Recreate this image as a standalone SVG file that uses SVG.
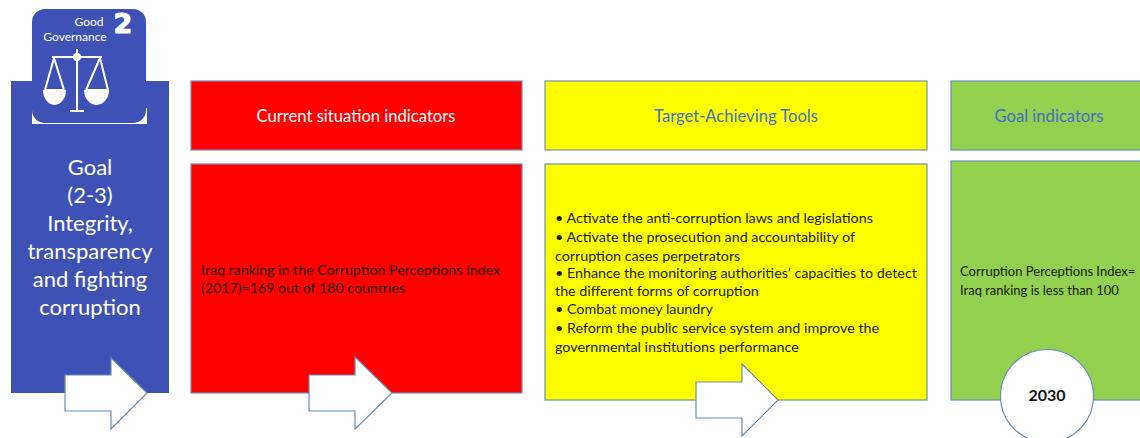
<svg xmlns="http://www.w3.org/2000/svg" width="1140" height="438" viewBox="0 0 1140 438">
<style>
text{font-family:Lato,"Liberation Sans",sans-serif}
.box{stroke:#6f8fb5;stroke-width:1.2}
.arrow{fill:#fff;stroke:#6b8cb0;stroke-width:1.2}
.head{font-size:16.6px;text-anchor:middle}
.body{font-size:14.2px;fill:#1a1a00}
.goal{font-size:22px;fill:#fff;text-anchor:middle}
.sym{fill:none;stroke:#fff;stroke-width:2}
</style>
<rect width="1140" height="438" fill="#fff"/>
<g id="goal">
<rect x="11" y="81" width="158" height="312" fill="#3f51b5"/>
<text class="goal"><tspan x="90" y="175">Goal</tspan><tspan x="90" y="203">(2-3)</tspan><tspan x="90" y="231">Integrity,</tspan><tspan x="90" y="259">transparency</tspan><tspan x="90" y="287">and fighting</tspan><tspan x="90" y="315">corruption</tspan></text>
</g>
<g id="icon">
<rect x="32" y="108" width="115" height="16" fill="#fff"/>
<rect x="32" y="9" width="114" height="114" rx="13" fill="#3f51b5"/>
<text x="89" y="26" font-size="12" fill="#fff" text-anchor="middle">Good</text>
<text x="75" y="41" font-size="12" fill="#fff" text-anchor="middle">Governance</text>
<text x="123" y="33" font-size="27" font-weight="700" fill="#fff" stroke="#fff" stroke-width="1" text-anchor="middle" style="font-family:'DejaVu Sans',sans-serif">2</text>
<path class="sym" d="M52 57H102M77 49V111M70 111H84M54 58L45 90M54 58L64 90M100 58L86 90M100 58L108 90M45 90H64M86 90H108"/>
<path d="M43 90H66A11.500 15 0 0 1 43 90ZM84 90H109A12.500 15 0 0 1 84 90Z" fill="#fff"/>
<circle cx="77" cy="57" r="4" fill="#fff"/>
</g>
<g id="current-head"><rect class="box" x="191" y="81" width="331" height="69" fill="#f00"/><text class="head" x="356" y="122" fill="#fff">Current situation indicators</text></g>
<g id="current-body"><rect class="box" x="191" y="164" width="331" height="229" fill="#f00"/><text class="body"><tspan x="201" y="275">Iraq ranking in the Corruption Perceptions Index</tspan><tspan x="201" y="293">(2017)=169 out of 180 countries</tspan></text></g>
<g id="tools-head"><rect class="box" x="545" y="81" width="382" height="69" fill="#ff0"/><text class="head" x="736" y="122" fill="#4472c4">Target-Achieving Tools</text></g>
<g id="tools-body"><rect class="box" x="545" y="164" width="382" height="236" fill="#ff0"/><text class="body" style="font-size:14.3px"><tspan x="555" y="223">• Activate the anti-corruption laws and legislations</tspan><tspan x="555" y="242">• Activate the prosecution and accountability of</tspan><tspan x="555" y="261">corruption cases perpetrators</tspan><tspan x="555" y="278">• Enhance the monitoring authorities’ capacities to detect</tspan><tspan x="555" y="296">the different forms of corruption</tspan><tspan x="555" y="314">• Combat money laundry</tspan><tspan x="555" y="333">• Reform the public service system and improve the</tspan><tspan x="555" y="352">governmental institutions performance</tspan></text></g>
<g id="indicators-head"><rect class="box" x="951" y="81" width="200" height="69" fill="#92d050"/><text class="head" x="1049" y="122" fill="#4472c4">Goal indicators</text></g>
<g id="indicators-body"><rect class="box" x="951" y="161" width="200" height="239" fill="#92d050"/><text class="body" style="font-size:13px"><tspan x="960" y="276">Corruption Perceptions Index=</tspan><tspan x="960" y="295">Iraq ranking is less than 100</tspan></text></g>
<g id="connectors">
<path class="arrow" d="M65 375H111V358L147 393L111 429V411H65Z"/>
<path class="arrow" d="M309 375H355V357L392 393L355 429V411H309Z"/>
<path class="arrow" d="M696 382H742V364L778 400L742 436V418H696Z"/>
</g>
<g id="year"><circle cx="1047" cy="396" r="46.500" fill="#fff" stroke="#6b8cb0" stroke-width="1.200"/><text x="1047" y="401" font-size="16" font-weight="700" text-anchor="middle" fill="#111">2030</text></g>
</svg>
